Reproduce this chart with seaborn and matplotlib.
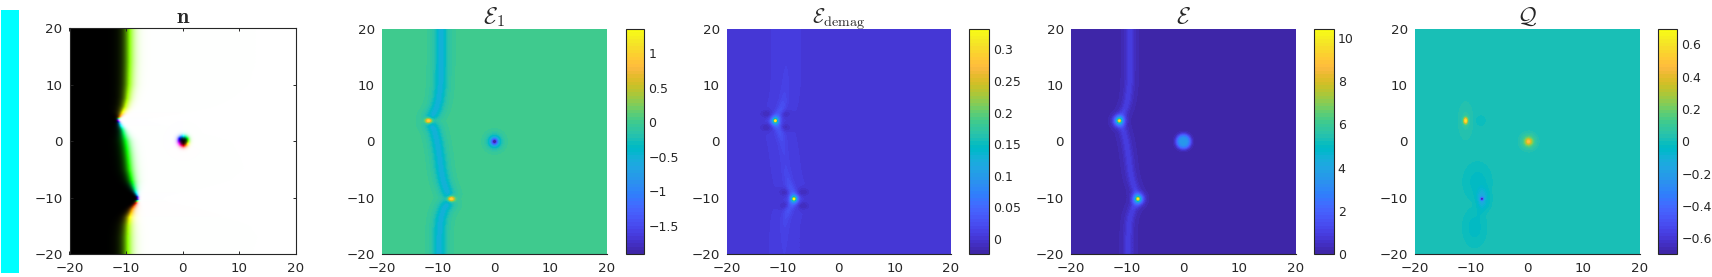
import numpy as np
import pandas as pd
import matplotlib
matplotlib.use("Agg")
import matplotlib.pyplot as plt
from matplotlib.colors import ListedColormap, hsv_to_rgb
from matplotlib.patches import Rectangle
import seaborn as sns

# ---- values ----
wall_y = [20, 14, 10, 7.5, 6, 5, 4.2, 3.7, 3.2, 2, 0, -2.5, -5, -7, -8.5, -9.6, -10.2, -10.9, -12, -13.5, -15, -17, -20]
wall_x = [-9.5, -9.5, -9.6, -9.9, -10.3, -10.8, -11.3, -11.6, -11.3, -10.7, -10.2, -9.8, -9.5, -9.1, -8.6, -8.2, -8.0, -8.3, -9.0, -9.5, -9.7, -9.8, -9.8]
wall_hue = [88, 88, 85, 80, 72, 58, 25, 300, 200, 150, 125, 115, 112, 118, 150, 200, 285, 5, 35, 60, 78, 86, 88]
wall_w = [1.2, 1.2, 1.15, 1.0, 0.85, 0.6, 0.3, 0.22, 0.3, 0.6, 1.0, 1.05, 1.05, 0.9, 0.6, 0.3, 0.22, 0.3, 0.6, 0.9, 1.1, 1.2, 1.2]
defect_top = (-11.4, 3.7)
defect_low = (-8.1, -10.2)
skyrmion = (0.0, 0.0)
limits_e1 = (-1.91, 1.358)
limits_demag = (-0.0245, 0.333)
limits_e = (0.0, 10.42)
limits_q = (-0.697, 0.697)
ticks_e1 = [-1.5, -1, -0.5, 0, 0.5, 1]
ticks_demag = [0, 0.05, 0.1, 0.15, 0.2, 0.25, 0.3]
ticks_e = [0, 2, 4, 6, 8, 10]
ticks_q = [-0.6, -0.4, -0.2, 0, 0.2, 0.4, 0.6]
axis_ticks = [-20, -10, 0, 10, 20]
titles = [r"$\mathbf{n}$", r"$\mathcal{E}_1$", r"$\mathcal{E}_{\mathrm{demag}}$", r"$\mathcal{E}$", r"$\mathcal{Q}$"]
parula_nodes = [(0.2422,0.1504,0.6603),(0.2504,0.1650,0.7076),(0.2578,0.1818,0.7511),(0.2647,0.1978,0.7952),
 (0.2706,0.2147,0.8364),(0.2751,0.2342,0.8710),(0.2783,0.2559,0.8991),(0.2803,0.2782,0.9221),(0.2813,0.3006,0.9414),
 (0.2810,0.3228,0.9579),(0.2795,0.3447,0.9717),(0.2760,0.3667,0.9829),(0.2699,0.3892,0.9906),(0.2602,0.4123,0.9952),
 (0.2440,0.4358,0.9988),(0.2206,0.4603,0.9973),(0.1963,0.4847,0.9892),(0.1834,0.5074,0.9798),(0.1786,0.5289,0.9682),
 (0.1764,0.5499,0.9520),(0.1687,0.5703,0.9359),(0.1540,0.5902,0.9218),(0.1460,0.6091,0.9079),(0.1380,0.6276,0.8973),
 (0.1248,0.6459,0.8883),(0.1113,0.6635,0.8763),(0.0952,0.6798,0.8598),(0.0689,0.6948,0.8394),(0.0297,0.7082,0.8163),
 (0.0036,0.7203,0.7917),(0.0067,0.7312,0.7660),(0.0433,0.7411,0.7394),(0.0964,0.7500,0.7120),(0.1408,0.7584,0.6842),
 (0.1717,0.7670,0.6554),(0.1938,0.7758,0.6251),(0.2161,0.7843,0.5923),(0.2470,0.7918,0.5567),(0.2906,0.7973,0.5188),
 (0.3406,0.8008,0.4789),(0.3909,0.8029,0.4354),(0.4456,0.8024,0.3909),(0.5044,0.7993,0.3480),(0.5616,0.7942,0.3045),
 (0.6174,0.7876,0.2612),(0.6720,0.7793,0.2227),(0.7242,0.7698,0.1910),(0.7738,0.7598,0.1646),(0.8203,0.7498,0.1535),
 (0.8634,0.7406,0.1596),(0.9035,0.7330,0.1774),(0.9393,0.7288,0.2100),(0.9728,0.7298,0.2394),(0.9956,0.7434,0.2371),
 (0.9970,0.7659,0.2199),(0.9952,0.7893,0.2028),(0.9892,0.8136,0.1885),(0.9786,0.8386,0.1766),(0.9676,0.8639,0.1643),
 (0.9610,0.8890,0.1537),(0.9597,0.9135,0.1423),(0.9628,0.9373,0.1265),(0.9691,0.9606,0.1064),(0.9769,0.9839,0.0805)]

W, H = 1712, 277
N = 225
sns.set_style("white")
plt.rcParams["font.family"] = ["DejaVu Sans"]
plt.rcParams["mathtext.fontset"] = "cm"
INK = "#262626"
parula = ListedColormap(parula_nodes, name="parula64")

cells = (np.arange(N) + 0.5) / N * 40 - 20
X, Y = np.meshgrid(cells, cells)

# smooth wall path through the knots
ys = np.linspace(20, -20, 801)
order = np.argsort(wall_y)
sorted_y = np.array(wall_y)[order]
def along(values, kernel=9):
    v = np.interp(ys[::-1], sorted_y, np.array(values)[order])[::-1]
    k = np.ones(kernel) / kernel
    return np.convolve(np.pad(v, kernel // 2, mode="edge"), k, mode="valid")
path_x = along(wall_x)
path_w = along(wall_w, 15)

dist = np.full(X.shape, np.inf)
for px, py in zip(path_x[::2], ys[::2]):
    dist = np.minimum(dist, np.hypot(X - px, Y - py))
side = np.sign(X - np.interp(Y, ys[::-1], path_x[::-1]))
D = dist * side
Yw = np.interp(Y, ys[::-1], path_w[::-1])

def blob(c, sx, sy=None, p=2):
    sy = sx if sy is None else sy
    return np.exp(-(((X - c[0]) / sx) ** 2 + ((Y - c[1]) / sy) ** 2) ** (p / 2))
def sech2(d, w):
    return 1 / np.cosh(d / w) ** 2

R0 = np.hypot(X - skyrmion[0], Y - skyrmion[1])

# panel n : hue from in-plane angle, lightness from n_z
L = 0.5 * (1 + np.tanh(D / Yw))
hue = np.interp(Y, sorted_y, np.array(wall_hue)[order])
Lsky = 0.5 * (1 + np.tanh((R0 - 0.85) / 0.42))
near = R0 < 3.5
hue = np.where(near, np.degrees(np.arctan2(Y, X)) + 90, hue) % 360
L = np.where(near, np.minimum(L, Lsky), L)
sat = 1 - np.abs(2 * L - 1)
rgb = np.clip(hsv_to_rgb(np.dstack([hue / 360, np.ones_like(L), np.ones_like(L)])), 0, 1)
rgb = np.clip(L[..., None] + (rgb - 0.5) * sat[..., None], 0, 1)

# panel E1
top_e1 = (defect_top[0] - 0.3, defect_top[1])
low_e1 = (defect_low[0] + 0.4, defect_low[1])
E1 = (0.03 - 0.46 * sech2(D, 1.05) - 0.10 * sech2(D, 2.4)
      + 1.4 * blob(top_e1, 0.6, 0.45) + 0.2 * blob(top_e1, 1.3, 0.8)
      + 1.4 * blob(low_e1, 0.6, 0.45) + 0.2 * blob(low_e1, 1.3, 0.8)
      - 1.2 * blob(skyrmion, 0.5) - 0.75 * blob(skyrmion, 1.1) - 0.12 * blob(skyrmion, 2.4))

# panel E_demag
def lobes(c, a=0.018, off=1.6):
    out = 0
    for dx, dy in [(-1, 1), (1, 1), (-1, -1), (1, -1)]:
        out = out - a * blob((c[0] + dx * off, c[1] + dy * off * 0.75), 1.0, 0.7)
    return out
def tail(c, a):
    return a * np.exp(-(D / 0.75) ** 2) * np.exp(-np.abs(Y - c[1]) / 2.5)
Ed = (0.002 + 0.006 * sech2(D, 2.0)
      + 0.24 * blob(defect_top, 0.25) + 0.11 * blob(defect_top, 0.7)
      + 0.24 * blob(defect_low, 0.25) + 0.11 * blob(defect_low, 0.7)
      + tail(defect_top, 0.05) + tail(defect_low, 0.05)
      + lobes(defect_top) + lobes(defect_low))

# panel E
E = (0.12 + 0.85 * sech2(D, 0.75)
     + 5.4 * blob(defect_top, 0.32) + 4.2 * blob(defect_top, 0.9)
     + 5.4 * blob(defect_low, 0.32) + 4.2 * blob(defect_low, 0.9)
     + 3.4 * blob(skyrmion, 1.35, p=4))

# panel Q
q_top = (-11.0, 3.7)
Q = (0.008 + 0.62 * blob(q_top, 0.38, 0.58) + 0.045 * blob(q_top, 1.3, 3.2)
     - 0.03 * blob((-8.4, 3.7), 0.85, 0.85)
     + 0.30 * blob((0.2, 0.0), 0.6) + 0.2 * blob((0.2, 0.0), 1.2)
     - 0.58 * blob((-8.1, -10.2), 0.28) - 0.13 * blob((-8.2, -10.2), 0.8, 1.8)
     - 0.032 * blob((-8.9, -7.2), 2.5, 3.4, p=4) - 0.032 * blob((-9.4, -15.3), 2.1, 3.4, p=4)
     - 0.032 * blob((-7.3, -10.3), 1.0, 2.0, p=4))

fig = plt.figure(figsize=(W / 100, H / 100), dpi=100)
def box(x0, x1, y0, y1):
    return fig.add_axes([x0 / W, 1 - y1 / H, (x1 - x0) / W, (y1 - y0) / H])
def style_ticks(ax):
    ax.tick_params(axis="both", which="major", labelsize=9.6, colors=INK, labelcolor=INK,
                   direction="in", length=2.2, width=0.7, pad=5)

fig.add_artist(Rectangle((0.6 / W, 1 - 272.5 / H), 18.4 / W, 262.5 / H, transform=fig.transFigure,
                         facecolor="#00ffff", edgecolor="none"))

ax = box(69.5, 296, 28.3, 254)
ax.imshow(rgb, origin="lower", extent=(-20, 20, -20, 20), aspect="auto", interpolation="bilinear")
ax.set_xticks(axis_ticks)
ax.set_yticks(axis_ticks)
ax.set_xticklabels([str(v).replace("-", "\u2212") for v in axis_ticks])
ax.set_yticklabels([str(v).replace("-", "\u2212") for v in axis_ticks])
style_ticks(ax)
ax.tick_params(top=True, right=True, bottom=True, left=True)
ax.tick_params(axis="x", pad=6)
for s in ax.spines.values():
    s.set_visible(True); s.set_color(INK); s.set_linewidth(0.8)
ax.set_title(titles[0], fontsize=16, color=INK, pad=4)

panels = [
    (E1, limits_e1, ticks_e1, (382, 606.7), (625.7, 644.3), titles[1], 16.5),
    (Ed, limits_demag, ticks_demag, (727, 950.7), (969.3, 989.3), titles[2], 14.5),
    (E, limits_e, ticks_e, (1071, 1295.7), (1314.3, 1333.7), titles[3], 16.5),
    (Q, limits_q, ticks_q, (1415, 1639.7), (1658.3, 1677.3), titles[4], 16.5),
]
for field, lim, cticks, xs, cxs, title, tsize in panels:
    ax = box(xs[0], xs[1], 28.7, 254)
    cax = box(cxs[0], cxs[1], 28.7, 254)
    frame = pd.DataFrame(field, index=cells, columns=cells)
    sns.heatmap(frame, ax=ax, cbar_ax=cax, cmap=parula, vmin=lim[0], vmax=lim[1],
                xticklabels=False, yticklabels=False, rasterized=True)
    ax.set_xlim(0, N)
    ax.set_ylim(0, N)
    pos = [(v + 20) / 40 * N for v in axis_ticks]
    ax.set_xticks(pos)
    ax.set_yticks(pos)
    ax.set_xticklabels([str(v).replace("-", "\u2212") for v in axis_ticks])
    ax.set_yticklabels([str(v).replace("-", "\u2212") for v in axis_ticks], rotation=0)
    ax.set_xlabel(""); ax.set_ylabel("")
    style_ticks(ax)
    ax.tick_params(length=0)
    ax.tick_params(axis="x", pad=6)
    for name, s in ax.spines.items():
        s.set_visible(name == "bottom"); s.set_color(INK); s.set_linewidth(0.8)
    ax.set_title(title, fontsize=tsize, color=INK, pad=4)
    cb = ax.collections[0].colorbar
    cb.set_ticks(cticks)
    cb.set_ticklabels([f"{v:g}".replace("-", "\u2212") for v in cticks])
    cax.tick_params(axis="y", right=True, left=False, labelsize=9, colors=INK, labelcolor=INK,
                    direction="in", length=2.2, width=0.7, pad=3)
    cb.outline.set_visible(True)
    cb.outline.set_edgecolor(INK)
    cb.outline.set_linewidth(0.8)

fig.savefig("out.png", dpi=100)
